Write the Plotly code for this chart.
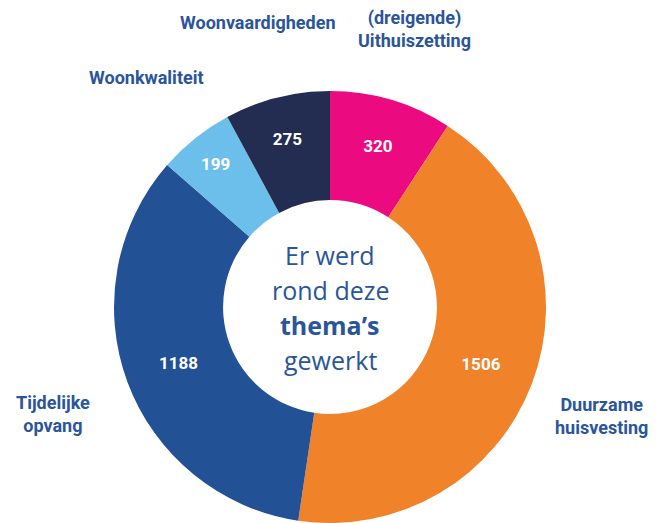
import plotly.graph_objects as go

# thema's en aantallen (met de klok mee vanaf 12 uur)
themas = ["(dreigende) Uithuiszetting", "Duurzame huisvesting", "Tijdelijke opvang",
          "Woonkwaliteit", "Woonvaardigheden"]
aantallen = [320, 1506, 1188, 199, 275]
kleuren = ["#EC0A80", "#F0822A", "#235196", "#6CBFEB", "#232D52"]

OFF = 8  # de pagina zet de figuur 8px naar rechts/onder (body-marge)
W, H = 656 - OFF, 523 - OFF  # zo past de figuur precies in het venster
label_kleur = "#2A5599"

# middelpunt en straal van de donut in pixels (beeld)
cx, cy, r = 330 - OFF, 307 - OFF, 216

fig = go.Figure()
fig.add_trace(go.Pie(
    labels=themas,
    values=aantallen,
    sort=False,
    direction="clockwise",
    rotation=0,
    hole=0.495,
    marker=dict(colors=kleuren, line=dict(width=0)),
    textinfo="value",
    textposition="inside",
    insidetextorientation="horizontal",
    textfont=dict(family="Roboto", size=17, color="white", weight="bold"),
    showlegend=False,
    hoverinfo="label+value",
    domain=dict(x=[(cx - r) / W, (cx + r) / W],
                y=[max(0, (H - cy - r) / H), min(1, (H - cy + r) / H)]),
))

# buitenlabels (x, y in pixels, midden van de tekst)
buiten = [
    ("Woonvaardigheden", 258, 22),
    ("(dreigende)<br>Uithuiszetting", 414, 29),
    ("Woonkwaliteit", 146, 78),
    ("Tijdelijke<br>opvang", 53, 414),
    ("Duurzame<br>huisvesting", 601, 416),
]
for tekst, px, py in buiten:
    fig.add_annotation(x=(px - OFF) / W, y=1 - (py - OFF) / H, xref="paper", yref="paper",
                       xanchor="center", yanchor="middle",
                       text=tekst, showarrow=False, align="center",
                       font=dict(family="Roboto", size=18, color=label_kleur, weight="bold"))

# tekst in het midden
midden = ["Er werd", "rond deze", "<b>thema’s</b>", "gewerkt"]
for i, regel in enumerate(midden):
    fig.add_annotation(x=(330 - OFF) / W, y=1 - (255 - OFF + 35 * i) / H,
                       xref="paper", yref="paper", xanchor="center", yanchor="middle",
                       text=regel, showarrow=False,
                       font=dict(family="Open Sans", size=25, color=label_kleur))

fig.update_layout(width=W, height=H, margin=dict(l=0, r=0, t=0, b=0),
                  paper_bgcolor="white", plot_bgcolor="white")
fig.write_html("out.html")
